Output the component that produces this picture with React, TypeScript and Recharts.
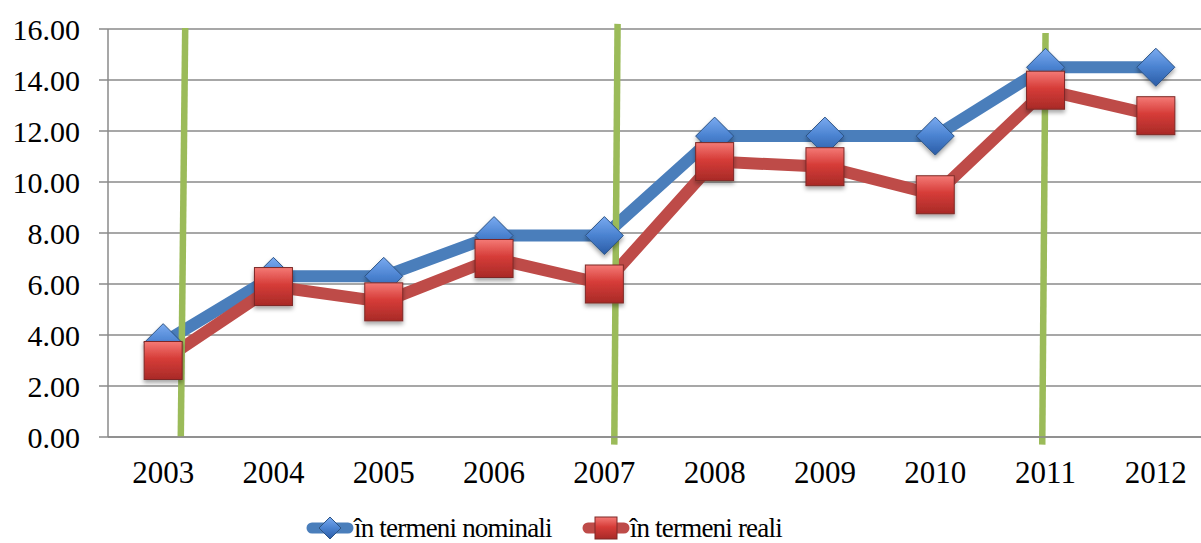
import React from "react";
import {
  LineChart,
  Line,
  XAxis,
  YAxis,
  CartesianGrid,
  ReferenceLine,
  Legend,
} from "recharts";

const YEARS = [2003, 2004, 2005, 2006, 2007, 2008, 2009, 2010, 2011, 2012];
const NOMINAL = [3.7, 6.3, 6.3, 7.9, 7.9, 11.8, 11.8, 11.8, 14.5, 14.5];
const REAL = [3.0, 5.9, 5.3, 7.0, 6.0, 10.8, 10.6, 9.5, 13.6, 12.6];
const Y_TICKS = [0, 2, 4, 6, 8, 10, 12, 14, 16];
// boundaries between year categories (where the small tick marks sit)
const BOUNDARIES = [2002.5, ...YEARS.map((y) => y + 0.5)];
// hand-drawn green markers: [top, bottom] in data units
const MARKERS = [
  [{ x: 2003.2, y: 16.04 }, { x: 2003.16, y: 0 }],
  [{ x: 2007.12, y: 16.2 }, { x: 2007.09, y: -0.3 }],
  [{ x: 2011.0, y: 15.84 }, { x: 2010.97, y: -0.3 }],
];
const SERIES_NAMES = ["în termeni nominali", "în termeni reali"];

const data = YEARS.map((year, i) => ({
  year,
  nominal: NOMINAL[i],
  real: REAL[i],
}));

const BLUE = "#4a7ebb";
const RED = "#be4b48";
const GREEN = "#9bbb59";
const GRID = "#8a8a8a";
const FONT = "'Liberation Serif', serif";

const Diamond = ({ cx, cy, r = 19 }: any) => (
  <polygon
    points={`${cx},${cy - r} ${cx + r},${cy} ${cx},${cy + r} ${cx - r},${cy}`}
    fill="url(#blueGrad)"
    stroke="#2c5384"
    strokeWidth={1}
    filter="url(#shadow)"
  />
);

const Square = ({ cx, cy, r = 19 }: any) => (
  <rect
    x={cx - r}
    y={cy - r}
    width={r * 2}
    height={r * 2}
    fill="url(#redGrad)"
    stroke="#7d2826"
    strokeWidth={1}
    filter="url(#shadow)"
  />
);

const LegendIcon = ({ color, kind }: { color: string; kind: string }) => (
  <svg width={48} height={30} style={{ display: "block" }}>
    <line
      x1={6}
      y1={15}
      x2={42}
      y2={15}
      stroke={color}
      strokeWidth={11}
      strokeLinecap="round"
    />
    {kind === "diamond" ? (
      <polygon points="24,4 35,15 24,26 13,15" fill="url(#blueGrad)" stroke="#2c5384" />
    ) : (
      <rect x={13} y={4} width={22} height={22} fill="url(#redGrad)" stroke="#7d2826" />
    )}
  </svg>
);

const renderLegend = () => (
  <div
    style={{
      display: "flex",
      alignItems: "center",
      paddingLeft: 306,
      height: 36,
      fontFamily: FONT,
      fontSize: 27,
      letterSpacing: -0.8,
      color: "#000",
    }}
  >
    <LegendIcon color={BLUE} kind="diamond" />
    <span style={{ marginRight: 30 }}>{SERIES_NAMES[0]}</span>
    <LegendIcon color={RED} kind="square" />
    <span>{SERIES_NAMES[1]}</span>
  </div>
);

export default function App() {
  return (
    <div
      style={{
        position: "absolute",
        left: 0,
        top: 0,
        width: 1201,
        height: 543,
        overflow: "hidden",
        background: "#fff",
      }}
    >
      <LineChart
        width={1220}
        height={543}
        data={data}
        margin={{ top: 29, right: 9, bottom: 0, left: 0 }}
      >
        <defs>
          <linearGradient id="blueGrad" x1="0" y1="0" x2="0" y2="1">
            <stop offset="0%" stopColor="#7aaaf0" />
            <stop offset="50%" stopColor="#4a82d0" />
            <stop offset="100%" stopColor="#2b5ca6" />
          </linearGradient>
          <linearGradient id="redGrad" x1="0" y1="0" x2="0" y2="1">
            <stop offset="0%" stopColor="#f47a76" />
            <stop offset="45%" stopColor="#d63c38" />
            <stop offset="100%" stopColor="#a82a27" />
          </linearGradient>
          <filter id="shadow" x="-30%" y="-30%" width="160%" height="170%">
            <feDropShadow dx={0} dy={3} stdDeviation={2} floodOpacity={0.35} />
          </filter>
        </defs>

        <CartesianGrid vertical={false} stroke={GRID} strokeWidth={1.5} />

        <XAxis
          xAxisId="bounds"
          dataKey="year"
          type="number"
          domain={[2002.5, 2012.5]}
          ticks={BOUNDARIES}
          height={0}
          axisLine={false}
          tickLine={{ stroke: GRID, strokeWidth: 1.5 }}
          tickSize={8}
          tickFormatter={() => ""}
        />
        <XAxis
          dataKey="year"
          type="number"
          domain={[2002.5, 2012.5]}
          ticks={YEARS}
          height={60}
          axisLine={{ stroke: GRID, strokeWidth: 1.5 }}
          tickLine={false}
          tickSize={0}
          tickMargin={24}
          tick={{ fill: "#000", fontFamily: FONT, fontSize: 31 }}
        />
        <YAxis
          domain={[0, 16]}
          ticks={Y_TICKS}
          width={108}
          axisLine={{ stroke: GRID, strokeWidth: 1.5 }}
          tickLine={{ stroke: GRID, strokeWidth: 1.5 }}
          tickSize={9}
          tickMargin={19}
          tickFormatter={(v: number) => v.toFixed(2)}
          tick={{ fill: "#000", fontFamily: FONT, fontSize: 30 }}
        />

        <Line
          dataKey="nominal"
          name={SERIES_NAMES[0]}
          stroke={BLUE}
          strokeWidth={12}
          strokeLinejoin="round"
          dot={(p: any) => <Diamond key={`d${p.index}`} cx={p.cx} cy={p.cy} />}
          activeDot={false}
          isAnimationActive={false}
        />
        <Line
          dataKey="real"
          name={SERIES_NAMES[1]}
          stroke={RED}
          strokeWidth={12}
          strokeLinejoin="round"
          dot={(p: any) => <Square key={`s${p.index}`} cx={p.cx} cy={p.cy} />}
          activeDot={false}
          isAnimationActive={false}
        />

        {MARKERS.map((seg, i) => (
          <ReferenceLine
            key={i}
            segment={seg}
            stroke={GREEN}
            strokeWidth={6.5}
            ifOverflow="visible"
          />
        ))}

        <Legend
          verticalAlign="bottom"
          height={46}
          content={renderLegend}
          wrapperStyle={{ left: 0, top: 510, width: 1201 }}
        />
      </LineChart>
    </div>
  );
}
